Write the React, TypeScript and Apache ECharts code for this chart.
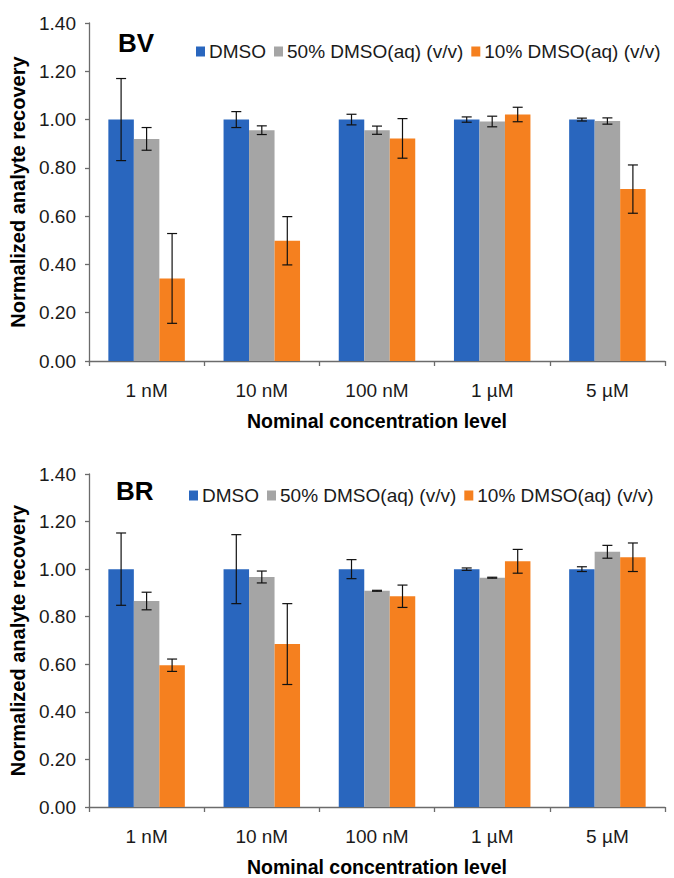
import React, { useEffect, useRef } from "react";
import * as echarts from "echarts";

const categories = ["1 nM", "10 nM", "100 nM", "1 µM", "5 µM"];
const seriesNames = ["DMSO", "50% DMSO(aq) (v/v)", "10% DMSO(aq) (v/v)"];
const colors = ["#2966BE", "#A5A5A5", "#F5801F"];
const yTicks = [0, 0.2, 0.4, 0.6, 0.8, 1.0, 1.2, 1.4];

// BV panel
const bvDmso = [1.0, 1.0, 1.0, 1.0, 1.0];
const bvDmsoErr = [0.17, 0.033, 0.022, 0.011, 0.006];
const bv50 = [0.92, 0.956, 0.956, 0.992, 0.994];
const bv50Err = [0.047, 0.018, 0.017, 0.022, 0.013];
const bv10 = [0.342, 0.498, 0.922, 1.021, 0.712];
const bv10Err = [0.186, 0.1, 0.082, 0.03, 0.1];

// BR panel
const brDmso = [1.0, 1.0, 1.0, 1.0, 1.0];
const brDmsoErr = [0.152, 0.145, 0.04, 0.005, 0.01];
const br50 = [0.866, 0.967, 0.909, 0.964, 1.073];
const br50Err = [0.037, 0.025, 0.002, 0.002, 0.027];
const br10 = [0.596, 0.685, 0.886, 1.033, 1.05];
const br10Err = [0.026, 0.17, 0.047, 0.05, 0.06];

const FONT = "'Liberation Sans', Arial, sans-serif";
const GAP = 0.336;

function makeErr(values: number[], errs: number[], idx: number, axis: number) {
  return {
    type: "custom",
    name: "err" + axis + "_" + idx,
    xAxisIndex: axis,
    yAxisIndex: axis,
    z: 5,
    silent: true,
    data: values.map((v, i) => [i, v - errs[i], v + errs[i]]),
    encode: { x: 0, y: [1, 2] },
    renderItem: (params: any, api: any) => {
      const c = api.value(0);
      const lo = api.coord([c, api.value(1)]);
      const hi = api.coord([c, api.value(2)]);
      const band = api.size([1, 0])[0];
      const bw = (band * (1 - GAP)) / 3;
      const x = lo[0] + (idx - 1) * bw;
      const cap = 5;
      const style = { stroke: "#111", lineWidth: 1.2 };
      return {
        type: "group",
        children: [
          { type: "line", shape: { x1: x, y1: lo[1], x2: x, y2: hi[1] }, style },
          { type: "line", shape: { x1: x - cap, y1: lo[1], x2: x + cap, y2: lo[1] }, style },
          { type: "line", shape: { x1: x - cap, y1: hi[1], x2: x + cap, y2: hi[1] }, style },
        ],
      };
    },
  };
}

function makeBars(values: number[], idx: number, axis: number) {
  return {
    type: "bar",
    name: seriesNames[idx],
    xAxisIndex: axis,
    yAxisIndex: axis,
    data: values,
    barGap: "0%",
    barCategoryGap: GAP * 100 + "%",
    itemStyle: { color: colors[idx] },
  };
}

function xAxis(gridIndex: number) {
  return {
    type: "category",
    gridIndex,
    data: categories,
    name: "Nominal concentration level",
    nameLocation: "middle",
    nameGap: 50,
    nameTextStyle: { fontFamily: FONT, fontSize: 19.5, fontWeight: "bold", color: "#000" },
    axisLine: { lineStyle: { color: "#6b6b6b", width: 1.3 } },
    axisTick: { show: true, length: 5, lineStyle: { color: "#6b6b6b", width: 1.3 } },
    axisLabel: { fontFamily: FONT, fontSize: 19, color: "#1a1a1a", margin: 20 },
  };
}

function yAxis(gridIndex: number) {
  return {
    type: "value",
    gridIndex,
    min: yTicks[0],
    max: yTicks[yTicks.length - 1],
    interval: 0.2,
    name: "Normalized analyte recovery",
    nameLocation: "middle",
    nameGap: 60,
    nameTextStyle: { fontFamily: FONT, fontSize: 20, fontWeight: "bold", color: "#000" },
    axisLine: { show: true, lineStyle: { color: "#6b6b6b", width: 1.3 } },
    axisTick: { show: true, length: 4, lineStyle: { color: "#6b6b6b", width: 1.3 } },
    splitLine: { show: false },
    axisLabel: {
      fontFamily: FONT,
      fontSize: 19,
      color: "#1a1a1a",
      margin: 13,
      formatter: (v: number) => v.toFixed(2),
    },
  };
}

function legend(left: number, top: number) {
  return {
    left,
    top,
    padding: 0,
    itemWidth: 9,
    itemHeight: 10,
    itemGap: 8,
    icon: "rect",
    data: seriesNames,
    selectedMode: false,
    textStyle: { fontFamily: FONT, fontSize: 19, color: "#1a1a1a", padding: [0, 0, 0, -1] },
  };
}

export default function App() {
  const ref = useRef<HTMLDivElement>(null);
  useEffect(() => {
    if (!ref.current) return;
    const chart = echarts.init(ref.current, null, { renderer: "svg" });
    chart.setOption({
      animation: false,
      backgroundColor: "#fff",
      grid: [
        { left: 89, top: 23, width: 576, height: 338 },
        { left: 89, top: 474, width: 576, height: 338 },
      ],
      legend: [legend(196, 42), legend(189, 486)],
      graphic: [
        { type: "text", left: 118, top: 30, style: { text: "BV", font: "bold 26px " + FONT, fill: "#000" } },
        { type: "text", left: 116, top: 478, style: { text: "BR", font: "bold 26px " + FONT, fill: "#000" } },
      ],
      xAxis: [xAxis(0), xAxis(1)],
      yAxis: [yAxis(0), yAxis(1)],
      series: [
        makeBars(bvDmso, 0, 0),
        makeBars(bv50, 1, 0),
        makeBars(bv10, 2, 0),
        makeBars(brDmso, 0, 1),
        makeBars(br50, 1, 1),
        makeBars(br10, 2, 1),
        makeErr(bvDmso, bvDmsoErr, 0, 0),
        makeErr(bv50, bv50Err, 1, 0),
        makeErr(bv10, bv10Err, 2, 0),
        makeErr(brDmso, brDmsoErr, 0, 1),
        makeErr(br50, br50Err, 1, 1),
        makeErr(br10, br10Err, 2, 1),
      ],
    });
    return () => chart.dispose();
  }, []);
  return (
    <div
      ref={ref}
      style={{ position: "absolute", left: 0, top: 0, width: 674, height: 878, background: "#fff" }}
    />
  );
}
